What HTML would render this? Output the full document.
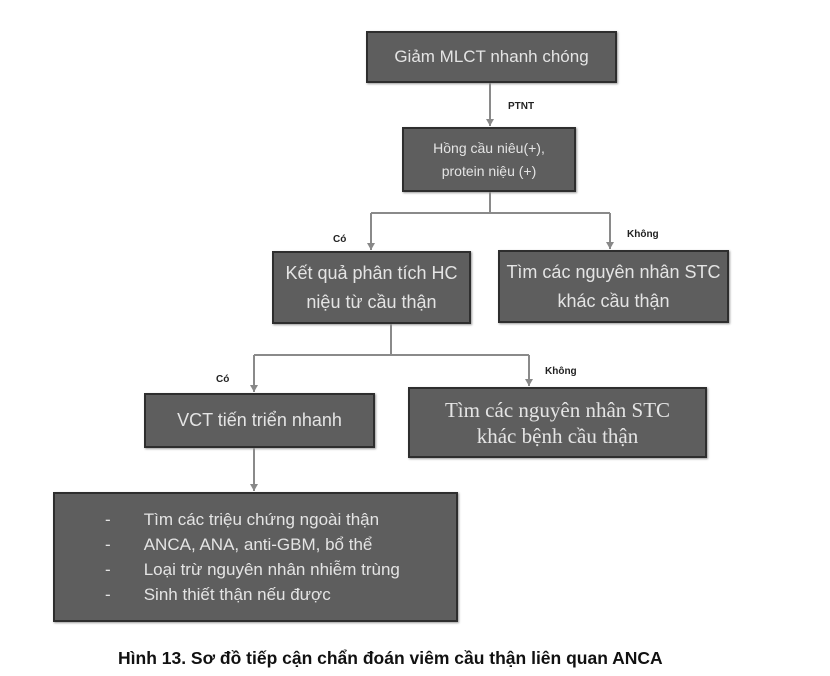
<!DOCTYPE html>
<html><head><meta charset="utf-8"><style>
body{margin:0;width:830px;height:676px;background:#fff;position:relative;overflow:hidden;font-family:"Liberation Sans",sans-serif}
.b{position:absolute;background:#5e5e5e;border:2px solid #2e2e2e;box-sizing:border-box;color:#e4e4e4;display:flex;align-items:center;justify-content:center;text-align:center;box-shadow:1px 1px 2px #999}
.l{position:absolute;font-size:10px;font-weight:bold;color:#222}
svg{position:absolute;left:0;top:0}
</style></head><body>
<svg width="830" height="676">
<defs><marker id="a" markerWidth="8" markerHeight="8" refX="7" refY="4" orient="auto" markerUnits="userSpaceOnUse"><path d="M0,0 L7,4 L0,8 z" fill="#888"/></marker></defs>
<g stroke="#8a8a8a" stroke-width="2" fill="none">
<line x1="490" y1="83" x2="490" y2="126" marker-end="url(#a)"/>
<path d="M490,192 V213 M371,213 H610"/>
<line x1="371" y1="213" x2="371" y2="250" marker-end="url(#a)"/>
<line x1="610" y1="213" x2="610" y2="249" marker-end="url(#a)"/>
<path d="M391,324 V355 M254,355 H529"/>
<line x1="254" y1="355" x2="254" y2="392" marker-end="url(#a)"/>
<line x1="529" y1="355" x2="529" y2="386" marker-end="url(#a)"/>
<line x1="254" y1="448" x2="254" y2="491" marker-end="url(#a)"/>
</g></svg>
<div class="b" style="left:366px;top:31px;width:251px;height:52px;font-size:17px">Giảm MLCT nhanh chóng</div>
<div class="l" style="left:508px;top:101px">PTNT</div>
<div class="b" style="left:402px;top:127px;width:174px;height:65px;font-size:14px;line-height:23px">Hồng cầu niêu(+),<br>protein niệu (+)</div>
<div class="l" style="left:333px;top:234px">Có</div>
<div class="l" style="left:627px;top:229px">Không</div>
<div class="b" style="left:272px;top:251px;width:199px;height:73px;font-size:18px;line-height:29px">Kết quả phân tích HC<br>niệu từ cầu thận</div>
<div class="b" style="left:498px;top:250px;width:231px;height:73px;font-size:18px;line-height:29px">Tìm các nguyên nhân STC<br>khác cầu thận</div>
<div class="l" style="left:216px;top:374px">Có</div>
<div class="l" style="left:545px;top:366px">Không</div>
<div class="b" style="left:144px;top:393px;width:231px;height:55px;font-size:18px">VCT tiến triển nhanh</div>
<div class="b" style="left:408px;top:387px;width:299px;height:71px;font-size:21px;line-height:26px;font-family:'Liberation Serif',serif">Tìm các nguyên nhân STC<br>khác bệnh cầu thận</div>
<div class="b" style="left:53px;top:492px;width:405px;height:130px;font-size:17px;line-height:25px;justify-content:flex-start;text-align:left;padding-left:50px">
<div><div>-&nbsp;&nbsp;&nbsp;&nbsp;&nbsp;&nbsp;&nbsp;Tìm các triệu chứng ngoài thận</div><div>-&nbsp;&nbsp;&nbsp;&nbsp;&nbsp;&nbsp;&nbsp;ANCA, ANA, anti-GBM, bổ thể</div><div>-&nbsp;&nbsp;&nbsp;&nbsp;&nbsp;&nbsp;&nbsp;Loại trừ nguyên nhân nhiễm trùng</div><div>-&nbsp;&nbsp;&nbsp;&nbsp;&nbsp;&nbsp;&nbsp;Sinh thiết thận nếu được</div></div></div>
<div style="position:absolute;left:118px;top:648px;font-size:17.5px;font-weight:bold;color:#111;white-space:nowrap">Hình 13. Sơ đồ tiếp cận chẩn đoán viêm cầu thận liên quan ANCA</div>
</body></html>
